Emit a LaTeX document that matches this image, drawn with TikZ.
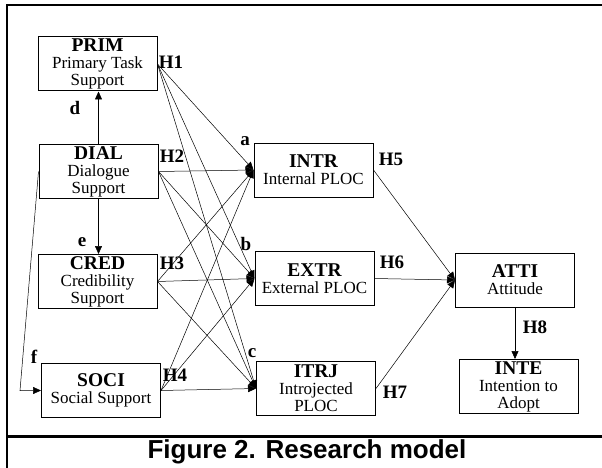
\documentclass[tikz,border=0pt]{standalone}
\usepackage{fontspec}
\setmainfont{Liberation Serif}
\newfontfamily\capfont{Liberation Sans}
\usetikzlibrary{arrows.meta,positioning}
\newcommand{\boxhead}[1]{{\fontsize{19.5}{17}\selectfont\bfseries #1}}

\begin{document}
\begin{tikzpicture}[x=1pt,y=-1pt,
  box/.style={draw,line width=1pt,minimum width=119pt,minimum height=54pt,
    align=center,inner sep=1pt,font=\fontsize{17}{17}\selectfont},
  lnk/.style={line width=0.5pt,-{Triangle[length=8pt,width=7pt]}},
  hyp/.style={font=\fontsize{19}{19}\selectfont\bfseries,inner sep=0pt}]
\useasboundingbox (0,0) rectangle (602,468);
% FRAME
\draw[line width=2.5pt] (602,5) -- (7,5) -- (7,468);
\draw[line width=2.5pt] (7,436.5) -- (602,436.5);
% SUPPORT CONSTRUCTS
\node[box] (prim) at (97.5,64)  {\boxhead{PRIM}\\Primary Task\\Support};
\node[box] (dial) at (98.5,171.5) {\boxhead{DIAL}\\Dialogue\\Support};
\node[box] (cred) at (97.5,281.5) {\boxhead{CRED}\\Credibility\\Support};
\node[box] (soci) at (101,390.5) {\boxhead{SOCI}\\Social Support};
% PLOC
\node[box] (intr) at (313.5,170) {\boxhead{INTR}\\Internal PLOC};
\node[box] (extr) at (314.5,278.5) {\boxhead{EXTR}\\External PLOC};
\node[box] (itrj) at (316,388.5) {\boxhead{ITRJ}\\Introjected\\PLOC};
% OUTCOMES
\node[box] (atti) at (515,280) {\boxhead{ATTI}\\Attitude};
\node[box] (inte) at (518.5,386.5) {\boxhead{INTE}\\Intention to\\Adopt};
% PATHS
\foreach \src in {prim,dial,cred,soci}{
  \foreach \dst in {intr,extr,itrj}{ \draw[lnk] (\src.east) -- (\dst.west); }
}
\foreach \src in {intr,extr,itrj}{ \draw[lnk] (\src.east) -- (atti.west); }
\draw[lnk] (dial.north) -- (dial.north |- prim.south);
\draw[lnk] (dial.south) -- (dial.south |- cred.north);
\coordinate (fbend) at (20,0);
\draw[lnk] (dial.west) -- (fbend |- soci.west) -- (soci.west);
\draw[lnk] (atti.south) -- (atti.south |- inte.north);
% LABELS
\foreach \nm/\txt/\xx/\yy in {h1/H1/171/62, h2/H2/172/156, h3/H3/172/263,
    h4/H4/175/375, h5/H5/391/159, h6/H6/392/262, h7/H7/395/392, h8/H8/535/327,
    la/a/245/141, lb/b/246/244, lc/c/252/353, ld/d/75/108, le/e/82/242, lf/f/34/357}{
  \node[hyp] (\nm) at (\xx,\yy) {\txt};
}
\node[font=\capfont\bfseries\fontsize{26}{26}\selectfont] (cap) at (307,452)
  {Figure 2. Research model};
\end{tikzpicture}
\end{document}
